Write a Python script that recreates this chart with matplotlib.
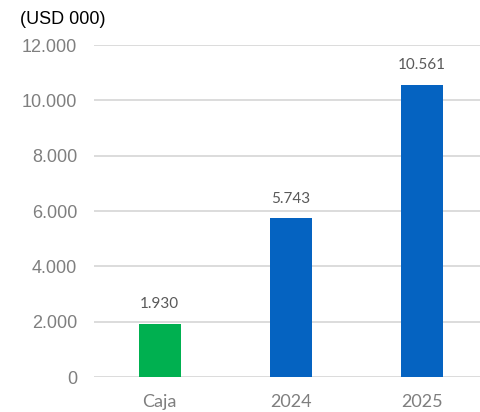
import matplotlib.pyplot as plt
from matplotlib.ticker import FuncFormatter

categories = ['Caja', '2024', '2025']
values = [1930, 5743, 10561]
bar_colors = ['#00B050', '#0563C1', '#0563C1']
yticks = [0, 2000, 4000, 6000, 8000, 10000, 12000]


def fmt_thousands(v, pos=None):
    return f'{int(v):,}'.replace(',', '.')


fig = plt.figure(figsize=(4.81, 4.12), dpi=100)
ax = fig.add_axes([94 / 481, 35 / 412, 1 - 94 / 481, 332 / 412])

x = range(len(categories))
bars = ax.bar(x, values, width=0.32, color=bar_colors, zorder=3)

for xi, v in zip(x, values):
    ax.annotate(fmt_thousands(v), (xi, v), xytext=(0, 9), textcoords='offset points',
                ha='center', va='bottom', fontsize=11, color='#595959', family='Lato')

ax.set_ylim(0, 12000)
ax.set_xlim(-0.5, 2.45)
ax.set_yticks(yticks)
ax.yaxis.set_major_formatter(FuncFormatter(fmt_thousands))
ax.set_xticks(list(x))
ax.set_xticklabels(categories, family='Lato', fontsize=13, color='#7F7F7F')
ax.tick_params(axis='y', length=0, pad=12, labelsize=13, labelcolor='#7F7F7F')
ax.tick_params(axis='x', length=0, pad=12)
for lab in ax.get_yticklabels():
    lab.set_family('Liberation Sans')

ax.grid(axis='y', color='#D9D9D9', linewidth=1.3, zorder=0)
for s in ax.spines.values():
    s.set_visible(False)

fig.text(20 / 481, 1 - 19 / 412, '(USD 000)', fontsize=13, family='Liberation Sans',
         color='black', ha='left', va='center')

fig.savefig('out.png', dpi=100)
